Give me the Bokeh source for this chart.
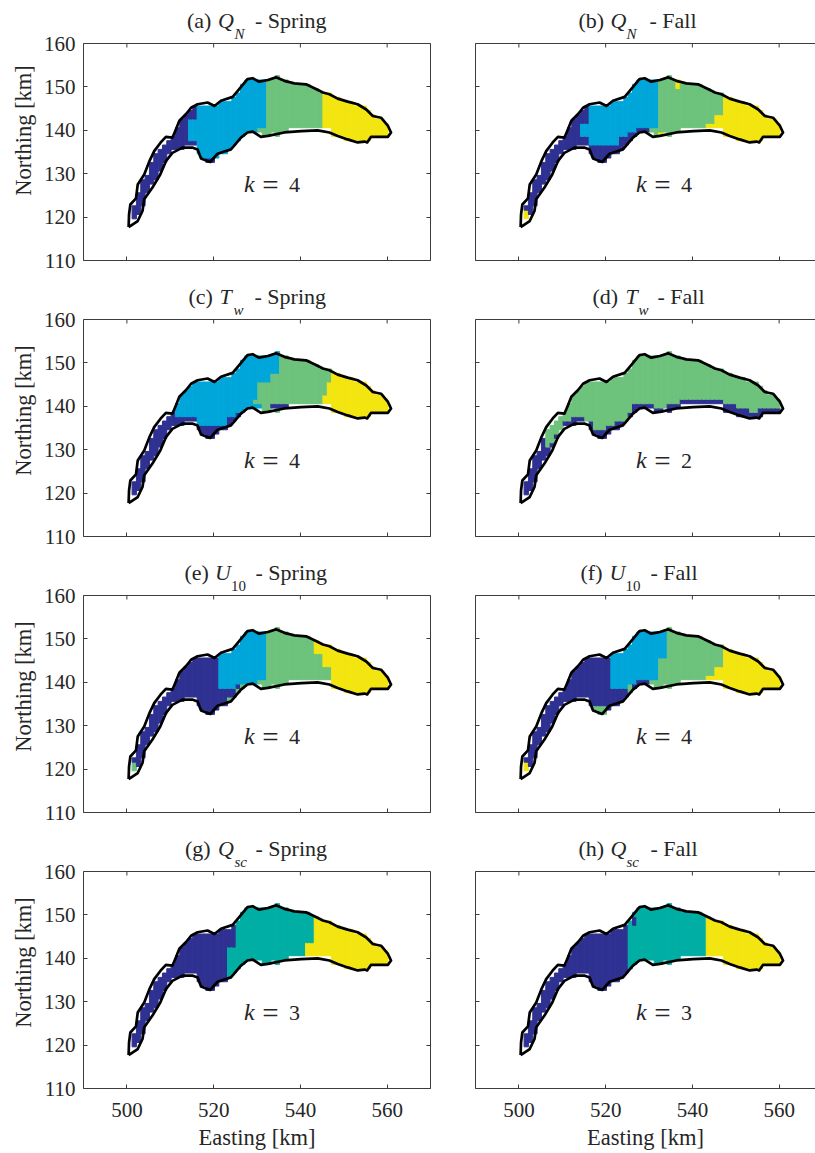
from bokeh.plotting import figure
from bokeh.layouts import column, row
from bokeh.models import LinearAxis, ColumnDataSource, FixedTicker, Range1d
from bokeh.core.properties import value
from bokeh.embed import file_html
from bokeh.resources import INLINE

shore_east = [500.4,500.5,500.8,502.1,502.5,504.0,505.2,506.3,507.8,509.0,510.5,511.3,512.1,513.6,514.8,516.3,518.6,520.2,521.7,524.4,525.9,527.8,529.0,530.5,532.5,534.4,536.3,538.6,541.3,543.6,545.2,546.7,548.6,550.9,553.2,555.2,556.7,558.6,560.2,560.9,
              560.2,556.3,555.4,554.8,553.2,550.9,548.6,546.7,544.0,540.2,536.3,532.5,530.9,529.0,527.8,526.3,524.0,520.9,519.2,517.1,516.3,515.2,512.8,510.5,509.0,507.7,505.9,504.0,503.6,502.5,500.4]
shore_north = [117.7,120.6,122.9,124.3,127.5,129.8,132.9,135.2,137.2,138.5,138.3,140.2,142.2,143.7,145.2,146.0,146.4,145.6,146.8,147.7,149.5,151.8,152.0,151.2,151.6,152.2,151.4,150.8,150.6,149.5,148.7,148.3,147.3,146.6,146.0,144.8,143.3,142.9,141.0,139.5,
               138.5,138.5,137.2,137.4,137.2,137.9,138.7,139.5,140.0,139.8,139.5,138.7,138.5,139.7,139.5,138.3,135.6,134.6,132.7,133.5,135.6,136.0,136.0,134.8,132.9,129.8,126.8,124.1,121.4,119.1,117.7]

col_east = list(range(501, 561))
col_south = [120,121,123,126,128,129,131,133,135,136,136,136,137,137,137,135,134,133,133,134,135,135,136,137,138,139,140,140,140,140,139,139,140,139,140,140,141,141,141,141,
             141,141,141,141,141,141,139,139,139,138,138,138,138,138,138,139,139,139,139,139]
col_north = [123,126,129,130,133,135,136,137,138,139,141,143,144,145,146,146,146,146,146,146,147,147,147,148,149,151,152,152,152,152,152,152,152,153,152,152,151,151,151,151,
             151,150,150,149,149,149,148,148,147,147,147,146,146,146,145,144,143,143,142,139]

DARK, BLUE, GREEN, YELLOW, TEAL = 0, 1, 2, 3, 4
palette = ["#2f3192", "#00a6da", "#6dc27c", "#f3e510", "#00aea4"]

# (east from, east to, north from, north to, class): later entries paint over earlier ones
rules_a = [(516,532,134,160,BLUE),(514,516,138,143,BLUE),(532,545,110,160,GREEN),(530,532,110,141,GREEN),(545,570,110,160,YELLOW)]
rules_b = [(516,532,137,160,BLUE),(514,516,139,142,BLUE),(523,525,110,139,DARK),(525,527,110,140,DARK),(527,530,110,141,DARK),
           (530,532,110,141,GREEN),(524,525,136,137,GREEN),(532,547,110,160,GREEN),(532,534,139,140,YELLOW),(536,537,150,152,YELLOW),
           (547,570,110,160,YELLOW),(545,547,110,144,YELLOW),(543,545,110,142,YELLOW),(501,502,119,122,YELLOW)]
rules_c = [(511,516,138,160,BLUE),(516,523,136,160,BLUE),(523,525,138,160,BLUE),(525,535,139,160,BLUE),
           (531,547,139,141,GREEN),(529,547,141,142,GREEN),(530,547,142,146,GREEN),(533,547,146,148,GREEN),(535,547,148,160,GREEN),
           (533,537,140,141,DARK),(545,570,110,143,YELLOW),(546,570,143,146,YELLOW),(547,570,146,160,YELLOW)]
rules_d = [(506,570,110,160,GREEN),(506,507,110,131,DARK),(507,508,110,132,DARK),(508,509,110,134,DARK),(509,510,110,135,DARK),(510,512,110,137,DARK),
           (512,515,110,138,DARK),(516,517,110,137,DARK),(517,520,110,135,DARK),(520,522,110,136,DARK),(522,525,110,137,DARK),(525,526,110,139,DARK),
           (526,531,110,141,DARK),(531,534,110,140,DARK),(534,537,110,141,DARK),(537,547,110,142,DARK),(547,550,110,141,DARK),(550,553,110,140,DARK),
           (553,555,110,139,DARK),(555,560,110,140,DARK),(560,561,110,141,DARK)]
rules_e = [(521,525,139,160,BLUE),(525,530,140,160,BLUE),(530,532,141,160,BLUE),(530,532,110,141,GREEN),(526,530,110,140,GREEN),(525,526,110,139,GREEN),(523,525,110,137,GREEN),
           (532,543,110,160,GREEN),(543,545,110,147,GREEN),(545,547,110,144,GREEN),(543,570,147,160,YELLOW),(545,570,144,160,YELLOW),(547,570,110,160,YELLOW),(501,502,119,122,GREEN)]
rules_f = [(521,525,139,160,BLUE),(525,527,140,160,BLUE),(527,532,141,160,BLUE),(527,530,140,141,DARK),(530,532,110,141,GREEN),(532,547,110,160,GREEN),(532,534,146,160,BLUE),
           (525,526,110,140,GREEN),(524,525,110,137,GREEN),(517,520,110,135,GREEN),(547,570,110,160,YELLOW),(545,547,110,144,YELLOW),(543,545,110,142,YELLOW),(501,502,119,122,YELLOW)]
rules_g = [(525,541,110,160,TEAL),(523,525,110,143,TEAL),(541,543,144,160,TEAL),(543,570,110,160,YELLOW),(541,543,110,144,YELLOW)]
rules_h = [(525,543,110,160,TEAL),(543,570,110,160,YELLOW),(526,527,148,150,DARK)]

x_ticks = [500, 520, 540, 560]
y_ticks = [110, 120, 130, 140, 150, 160]

# panel pieces: rules, k value, prefix, main symbol, subscript, suffix
panels = [
    (rules_a, "4", "(a)", "Q", "N", "- Spring", (103.5, 134.5, 151, 171.5)),
    (rules_b, "4", "(b)", "Q", "N", "- Fall", (103, 135, 151, 174)),
    (rules_c, "4", "(c)", "T", "w", "- Spring", (105, 136, 150, 171)),
    (rules_d, "2", "(d)", "T", "w", "- Fall", (117, 150, 163, 182)),
    (rules_e, "4", "(e)", "U", "10", "- Spring", (101, 131.5, 147.5, 172)),
    (rules_f, "4", "(f)", "U", "10", "- Fall", (105, 134, 150, 175)),
    (rules_g, "3", "(g)", "Q", "sc", "- Spring", (101.5, 134.5, 151, 172)),
    (rules_h, "3", "(h)", "Q", "sc", "- Fall", (103, 135, 151, 175)),
]

SERIF = "Liberation Serif"
INK = "#262626"
AXIS = "#3c3c3c"
SCALE = 347 / 80
ROW_OFF, COL_OFF = -0.4, 0.2


def cells(rules):
    left, right, bottom, top, color = [], [], [], [], []
    for e, s, n in zip(col_east, col_south, col_north):
        run_start, run_cls = s, None
        for y in range(s, n + 1):
            cls = None
            if y < n:
                cls = DARK
                for e0, e1, n0, n1, c in rules:
                    if e0 <= e < e1 and n0 <= y < n1:
                        cls = c
            if cls != run_cls:
                if run_cls is not None:
                    left.append(e + COL_OFF); right.append(e + 1 + COL_OFF)
                    bottom.append(run_start + ROW_OFF); top.append(y + ROW_OFF)
                    color.append(palette[run_cls])
                run_start, run_cls = y, cls
    return dict(left=left, right=right, bottom=bottom, top=top, color=color)


def blank(ticks):
    return {t: "" for t in ticks}


def make(i, panel):
    rules, k, pre, sym, sub, post, xs = panel
    left_col = i % 2 == 0
    last_row = i >= 6
    frame_w = 347 if left_col else 340
    bl = 83 if left_col else 30
    br = 15 if left_col else 0
    bb = 65 if last_row else 24
    bt = 43 if i < 2 else 35
    x_end = 490 + frame_w / SCALE
    # the frame runs up to the canvas top so that the panel title can sit above north 160
    p = figure(width=bl + frame_w + br, height=bt + 217 + bb, output_backend="svg", toolbar_location=None,
               x_range=Range1d(490, x_end), y_range=Range1d(110, 160 + bt * 50 / 217),
               min_border_left=bl, min_border_right=br, min_border_top=0, min_border_bottom=bb,
               x_axis_type=None, y_axis_type=None, outline_line_color=None, background_fill_color="white")
    p.grid.visible = False
    v_scale = 217 / 50

    def style(ax):
        ax.axis_line_color = AXIS
        ax.axis_line_width = 1
        ax.major_tick_line_color = AXIS
        ax.major_tick_in = 4
        ax.major_tick_out = 0
        ax.minor_tick_line_color = None
        ax.major_label_text_font = SERIF
        ax.major_label_text_color = INK
        ax.major_label_text_font_size = "21px"
        ax.axis_label_text_font = SERIF
        ax.axis_label_text_font_style = "normal"
        ax.axis_label_text_color = INK
        ax.axis_label_text_font_size = "22.5px"

    below = LinearAxis(ticker=FixedTicker(ticks=x_ticks))
    style(below)
    if last_row:
        below.axis_label = "Easting [km]"
        below.major_label_standoff = 14
        below.axis_label_standoff = 5
        below.major_label_text_line_height = 1.0
        below.axis_label_text_line_height = 1.0
    else:
        below.major_label_overrides = blank(x_ticks)
    p.add_layout(below, "below")

    lft = LinearAxis(ticker=FixedTicker(ticks=y_ticks), bounds=(110, 160))
    style(lft)
    if left_col:
        lft.axis_label = "Northing [km]"
        lft.major_label_standoff = 8
        lft.axis_label_standoff = 5
        lft.major_label_orientation = "horizontal"
    else:
        lft.major_label_overrides = blank(y_ticks)
    p.add_layout(lft, "left")

    if left_col:
        rgt = LinearAxis(ticker=FixedTicker(ticks=y_ticks), major_label_overrides=blank(y_ticks), bounds=(110, 160))
        style(rgt)
        p.add_layout(rgt, "right")

    p.line([490, x_end], [160, 160], line_color=AXIS, line_width=1)
    p.segment(x_ticks, [160] * 4, x_ticks, [160 - 4 / v_scale] * 4, line_color=AXIS, line_width=1)

    p.quad(left="left", right="right", bottom="bottom", top="top", fill_color="color", line_color="color",
           line_width=1, source=ColumnDataSource(cells(rules)))
    p.line(shore_east, shore_north, line_color="black", line_width=2.7, line_join="round")

    def lab(text, x, y, size, style_="normal"):
        # the svg text sits about 0.36 em under the requested baseline, so it is lifted by that much
        px = float(size[:-2])
        p.text([x], [y + 0.36 * px / v_scale], text=[text], text_font=value(SERIF), text_font_size=value(size),
               text_font_style=style_, text_color=INK, text_baseline="alphabetic", text_align="left")

    lab(pre, 490 + xs[0] / SCALE, 160 + 15.5 / v_scale, "22px")
    lab(sym, 490 + xs[1] / SCALE, 160 + 15.5 / v_scale, "22px", "italic")
    lab(sub, 490 + xs[2] / SCALE, 160 + 4.5 / v_scale, "15px", "italic" if sub != "10" else "normal")
    lab(post, 490 + xs[3] / SCALE, 160 + 15.5 / v_scale, "22px")

    lab("k", 527, 125.6, "24px", "italic")
    lab("=", 531.2, 125.0, "29px")
    lab(k, 537.4, 125.6, "22px")
    return p


figs = [make(i, pn) for i, pn in enumerate(panels)]
layout = column(*[row(figs[i], figs[i + 1], spacing=0) for i in range(0, 8, 2)], spacing=0)
open("out.html", "w").write(file_html(layout, INLINE))
